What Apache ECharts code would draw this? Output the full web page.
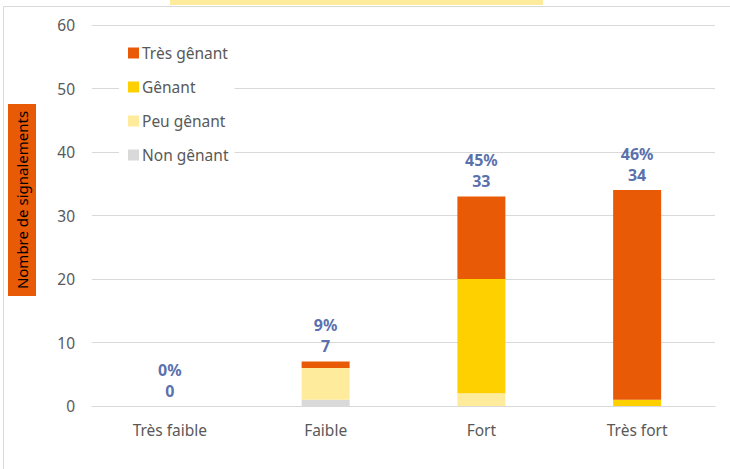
<!DOCTYPE html>
<html>
<head>
<meta charset="utf-8">
<script src="https://cdn.jsdelivr.net/npm/echarts@6/dist/echarts.min.js"></script>
<style>
html,body{margin:0;padding:0;background:#fff;}
#chart{width:730px;height:469px;}
</style>
</head>
<body>
<div id="chart"></div>
<script>
var categories=['Très faible','Faible','Fort','Très fort'];
var nonGenant=[0,1,0,0];
var peuGenant=[0,5,2,0];
var genant=[0,0,18,1];
var tresGenant=[0,1,13,33];
var totals=[0,7,33,34];
var pctLabels=['0%','9%','45%','46%'];
var yTicks=[0,10,20,30,40,50,60];

var textColor='#595959';
var font='"Noto Sans", "Open Sans", sans-serif';

function barSerie(name,data,color){
	return {
		name:name,
		type:'bar',
		stack:'total',
		barWidth:48,
		data:data,
		itemStyle:{color:color},
		emphasis:{disabled:true}
	};
}

var mychart=echarts.init(document.getElementById('chart'),null,{renderer:'svg'});
var option={
	animation:false,
	textStyle:{fontFamily:font},
	grid:{left:92,right:15,top:25,bottom:63},
	legend:{
		orient:'vertical',
		left:119,
		top:35,
		padding:[10,6,10,9],
		backgroundColor:'#ffffff',
		itemWidth:11,
		itemHeight:11,
		itemGap:18,
		icon:'rect',
		data:['Très gênant','Gênant','Peu gênant','Non gênant'],
		textStyle:{color:textColor,fontSize:15.5,fontFamily:font,padding:[0,0,0,-2]}
	},
	xAxis:{
		type:'category',
		data:categories,
		axisTick:{show:false},
		axisLine:{lineStyle:{color:'#d9d9d9',width:1}},
		axisLabel:{color:textColor,fontSize:15.5,margin:16,fontFamily:font}
	},
	yAxis:{
		type:'value',
		min:yTicks[0],
		max:yTicks[yTicks.length-1],
		interval:10,
		axisLine:{show:false},
		axisTick:{show:false},
		splitLine:{lineStyle:{color:'#d9d9d9',width:1}},
		axisLabel:{color:textColor,fontSize:15.5,margin:17,fontFamily:font}
	},
	series:[
		barSerie('Non gênant',nonGenant,'#d9d9d9'),
		barSerie('Peu gênant',peuGenant,'#ffeb9c'),
		barSerie('Gênant',genant,'#ffd000'),
		barSerie('Très gênant',tresGenant,'#e85a05'),
		{
			name:'total',
			type:'scatter',
			data:totals,
			symbolSize:0,
			silent:true,
			label:{
				show:true,
				position:'top',
				distance:5,
				color:'#2e4a98',
				fontWeight:'bold',
				fontSize:16,
				lineHeight:21,
				fontFamily:font,
				formatter:function(p){return pctLabels[p.dataIndex]+'\n'+p.value;}
			}
		}
	],
	graphic:[
		{type:'rect',shape:{x:3.5,y:6.5,width:800,height:600},style:{fill:'none',stroke:'#d9d9d9',lineWidth:1},silent:true},
		{type:'rect',shape:{x:170,y:0,width:373,height:5},style:{fill:'#ffeb9c'},silent:true},
		{type:'rect',shape:{x:8,y:104,width:28,height:192},style:{fill:'#e85a05'},silent:true},
		{
			type:'text',
			x:22,
			y:200,
			rotation:Math.PI/2,
			style:{text:'Nombre de signalements',fill:'#000000',fontSize:15,fontFamily:font,align:'center',verticalAlign:'middle'},
			silent:true
		}
	]
};
mychart.setOption(option);
</script>
</body>
</html>
